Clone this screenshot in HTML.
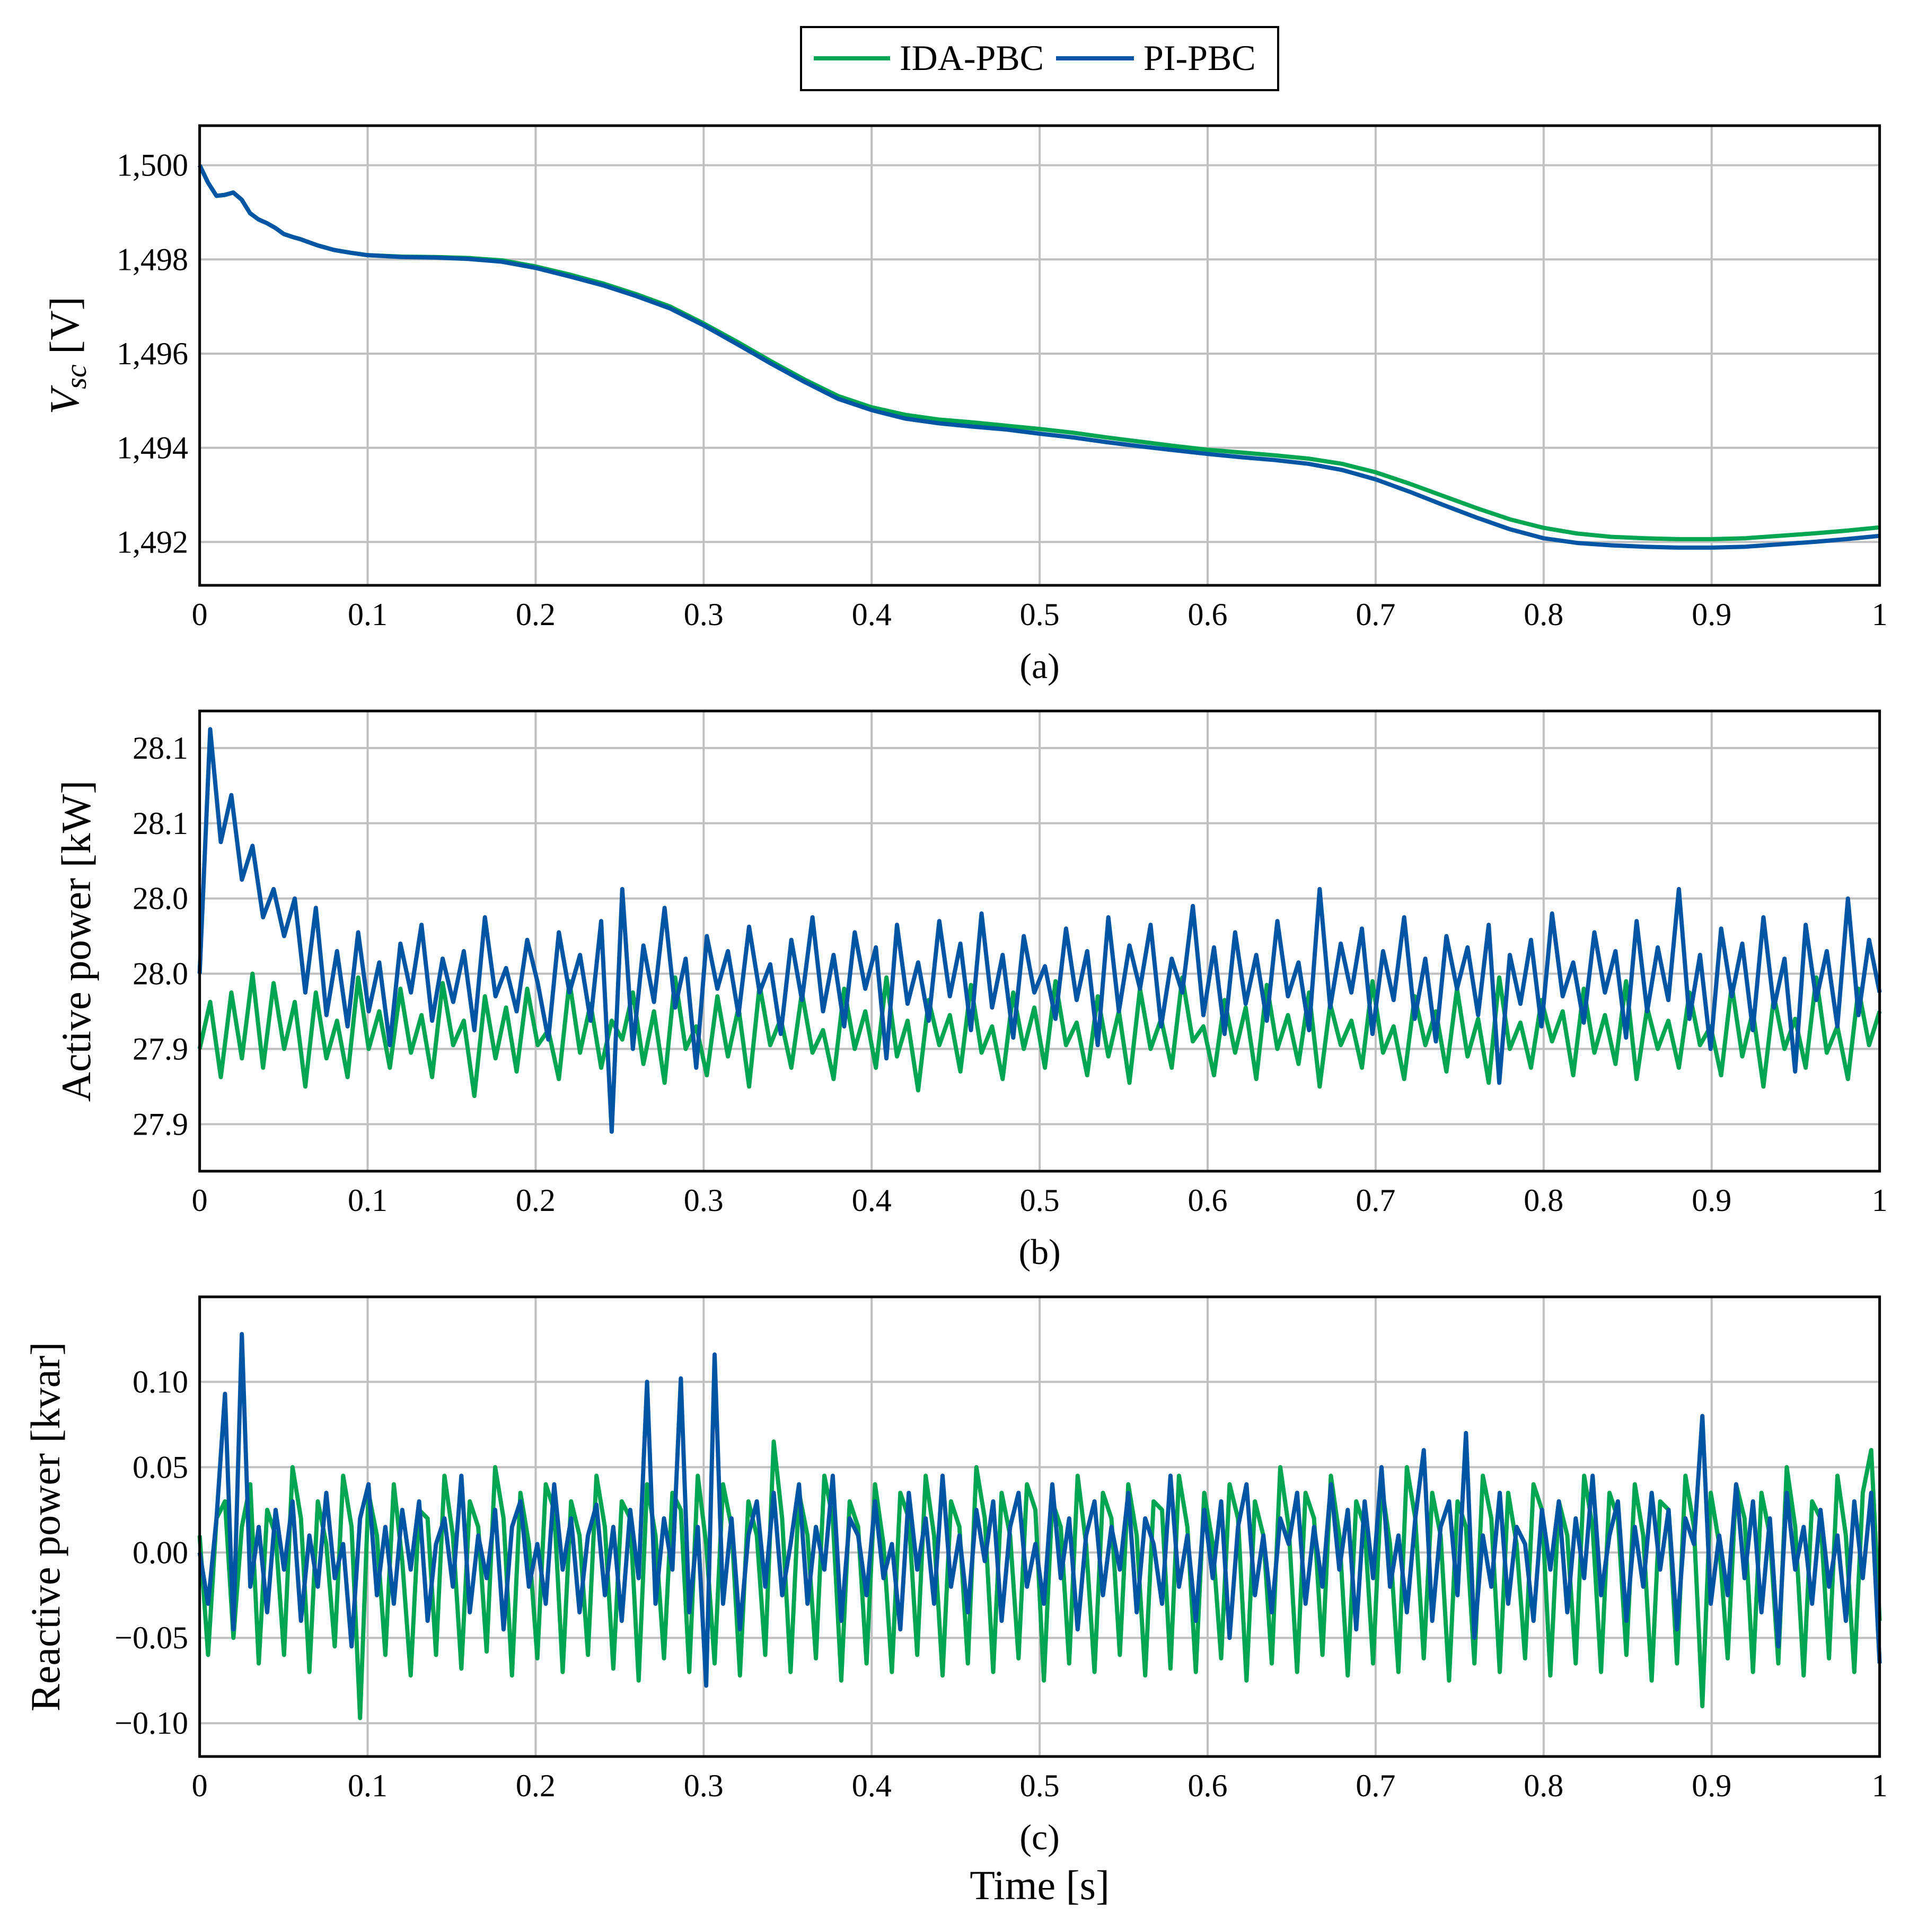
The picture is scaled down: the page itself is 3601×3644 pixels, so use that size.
<!DOCTYPE html>
<html><head><meta charset="utf-8"><style>
html,body{margin:0;padding:0;background:#fff;}
svg{display:block;font-family:"Liberation Serif",serif;}
</style></head><body>
<svg id="chart" width="3601" height="3644" viewBox="0 0 3601 3644" xmlns="http://www.w3.org/2000/svg">
<g>
<rect x="1511" y="51" width="900" height="119" fill="#fff" stroke="#000" stroke-width="4"/>
<line x1="1535" y1="110" x2="1679" y2="110" stroke="#00a651" stroke-width="8"/>
<text x="1697" y="132" font-size="68">IDA-PBC</text>
<line x1="1992" y1="110" x2="2139" y2="110" stroke="#0055a4" stroke-width="8"/>
<text x="2157" y="132" font-size="68">PI-PBC</text>
</g>
<g id="panels"></g>
</svg>
<script>
// Panel (a) data
const tA = [0,0.005,0.01,0.015,0.02,0.025,0.03,0.035,0.04,0.045,0.05,0.055,0.06,0.07,0.08,0.09,0.1,0.12,0.14,0.16,0.18,0.2,0.22,0.24,0.26,0.28,0.3,0.32,0.34,0.36,0.38,0.4,0.42,0.44,0.46,0.48,0.5,0.52,0.54,0.56,0.58,0.6,0.62,0.64,0.66,0.68,0.7,0.72,0.74,0.76,0.78,0.8,0.82,0.84,0.86,0.88,0.9,0.92,0.94,0.96,0.98,1.0];
const vscPI = [1500,1499.63,1499.35,1499.37,1499.42,1499.27,1498.98,1498.85,1498.77,1498.67,1498.54,1498.48,1498.43,1498.3,1498.2,1498.14,1498.09,1498.05,1498.04,1498.01,1497.95,1497.82,1497.64,1497.45,1497.22,1496.96,1496.6,1496.2,1495.79,1495.4,1495.04,1494.8,1494.62,1494.52,1494.45,1494.39,1494.3,1494.22,1494.12,1494.03,1493.95,1493.87,1493.8,1493.74,1493.66,1493.53,1493.33,1493.07,1492.79,1492.52,1492.27,1492.08,1491.98,1491.93,1491.9,1491.88,1491.88,1491.9,1491.95,1492.0,1492.06,1492.13];
const vscIDA = [1500,1499.63,1499.35,1499.37,1499.42,1499.27,1498.98,1498.85,1498.77,1498.67,1498.54,1498.48,1498.43,1498.3,1498.2,1498.14,1498.09,1498.06,1498.05,1498.03,1497.98,1497.85,1497.68,1497.49,1497.26,1497.0,1496.64,1496.25,1495.84,1495.45,1495.1,1494.86,1494.7,1494.6,1494.54,1494.47,1494.4,1494.32,1494.22,1494.13,1494.04,1493.96,1493.9,1493.84,1493.77,1493.66,1493.48,1493.24,1492.98,1492.72,1492.48,1492.3,1492.18,1492.11,1492.08,1492.06,1492.06,1492.08,1492.13,1492.18,1492.24,1492.31];
const ticksA = [1492,1494,1496,1498,1500];
const tickLabelsA = ["1,492","1,494","1,496","1,498","1,500"];
// Panel (b) data (kW), uniformly sampled over 0..1 s
const pPI = [28.000,28.130,28.070,28.095,28.050,28.068,28.030,28.045,28.020,28.040,
27.990,28.035,27.978,28.012,27.972,28.022,27.980,28.006,27.962,28.016,
27.990,28.026,27.975,28.008,27.985,28.012,27.970,28.030,27.988,28.003,
27.980,28.018,27.995,27.965,28.022,27.990,28.010,27.975,28.028,27.916,
28.045,27.960,28.015,27.985,28.035,27.982,28.008,27.950,28.020,27.992,
28.012,27.978,28.025,27.990,28.005,27.968,28.018,27.986,28.030,27.980,
28.010,27.972,28.022,27.992,28.014,27.955,28.026,27.984,28.006,27.975,
28.028,27.988,28.016,27.970,28.032,27.982,28.010,27.966,28.020,27.990,
28.004,27.976,28.024,27.986,28.012,27.962,28.030,27.980,28.015,27.992,
28.026,27.972,28.008,27.990,28.036,27.978,28.014,27.968,28.022,27.984,
28.010,27.975,28.028,27.988,28.006,27.970,28.045,27.982,28.016,27.990,
28.024,27.968,28.012,27.986,28.030,27.976,28.008,27.964,28.020,27.992,
28.014,27.978,28.026,27.942,28.010,27.984,28.018,27.972,28.032,27.988,
28.006,27.974,28.022,27.990,28.012,27.966,28.028,27.980,28.014,27.986,
28.045,27.976,28.010,27.960,28.024,27.988,28.016,27.970,28.030,27.982,
28.008,27.948,28.026,27.986,28.012,27.972,28.040,27.978,28.018,27.990];
const pIDA = [27.960,27.985,27.945,27.990,27.955,28.000,27.950,27.995,27.960,27.985,
27.940,27.990,27.955,27.975,27.945,27.998,27.960,27.980,27.950,27.992,
27.958,27.978,27.945,27.995,27.962,27.975,27.935,27.988,27.955,27.982,
27.948,27.992,27.962,27.970,27.944,27.996,27.958,27.984,27.950,27.975,
27.965,27.990,27.952,27.980,27.942,27.998,27.960,27.972,27.946,27.988,
27.956,27.982,27.940,27.994,27.962,27.976,27.950,27.990,27.958,27.970,
27.944,27.992,27.960,27.980,27.950,27.998,27.956,27.975,27.938,27.986,
27.962,27.978,27.948,27.994,27.958,27.972,27.944,27.990,27.960,27.982,
27.950,27.996,27.962,27.974,27.946,27.988,27.956,27.980,27.942,27.992,
27.960,27.976,27.950,27.998,27.964,27.972,27.946,27.986,27.958,27.982,
27.944,27.994,27.960,27.978,27.952,27.990,27.940,27.984,27.962,27.975,
27.950,27.996,27.958,27.972,27.944,27.988,27.962,27.980,27.948,27.992,
27.956,27.976,27.942,27.998,27.960,27.974,27.950,27.986,27.964,27.980,
27.946,27.992,27.958,27.978,27.952,27.996,27.944,27.982,27.960,27.975,
27.950,27.990,27.962,27.972,27.946,27.994,27.956,27.980,27.940,27.988,
27.960,27.976,27.950,27.998,27.958,27.972,27.944,27.992,27.962,27.980];
const ticksB = [27.92,27.96,28.00,28.04,28.08,28.12];
const tickLabelsB = ["27.9","27.9","28.0","28.0","28.1","28.1"];
// Panel (c) data (kvar)
const qPI = [0.000,-0.030,0.020,0.093,-0.045,0.128,-0.020,0.015,-0.035,0.025,
-0.010,0.030,-0.040,0.010,-0.020,0.035,-0.015,0.005,-0.055,0.020,
0.040,-0.025,0.015,-0.030,0.025,-0.010,0.030,-0.040,0.005,0.020,
-0.020,0.045,-0.035,0.010,-0.015,0.025,-0.045,0.015,0.030,-0.020,
0.005,-0.030,0.040,-0.010,0.020,-0.035,0.010,0.028,-0.025,0.015,
-0.040,0.025,-0.015,0.100,-0.030,0.020,-0.010,0.102,-0.035,0.015,
-0.078,0.116,-0.030,0.020,-0.045,0.010,0.030,-0.020,0.035,-0.025,
0.005,0.040,-0.030,0.015,-0.010,0.045,-0.040,0.020,0.010,-0.025,
0.030,-0.015,0.005,-0.045,0.035,-0.010,0.020,-0.030,0.045,-0.020,
0.010,-0.035,0.025,-0.005,0.030,-0.040,0.015,0.035,-0.020,0.005,
-0.030,0.040,-0.015,0.020,-0.045,0.010,0.030,-0.025,0.015,-0.010,
0.035,-0.035,0.020,0.005,-0.030,0.045,-0.020,0.010,-0.040,0.025,
-0.015,0.030,-0.050,0.015,0.040,-0.025,0.010,-0.035,0.020,0.005,
0.035,-0.030,0.015,-0.020,0.040,-0.010,0.025,-0.045,0.030,-0.015,
0.050,-0.020,0.010,-0.035,0.020,0.060,-0.040,0.015,0.030,-0.025,
0.070,-0.050,0.010,-0.020,0.035,-0.030,0.015,0.005,-0.040,0.025,
-0.010,0.030,-0.035,0.020,-0.015,0.045,-0.025,0.010,0.030,-0.040,
0.015,-0.020,0.035,-0.010,0.025,-0.045,0.020,0.005,0.080,-0.030,
0.010,-0.025,0.040,-0.015,0.030,-0.035,0.020,-0.055,0.035,-0.010,
0.015,-0.030,0.025,-0.020,0.010,-0.040,0.030,-0.015,0.035,-0.065];
const qIDA = [0.010,-0.060,0.020,0.030,-0.050,0.015,0.040,-0.065,0.025,0.010,
-0.060,0.050,0.020,-0.070,0.030,0.005,-0.055,0.045,0.015,-0.097,
0.035,0.010,-0.060,0.040,-0.005,-0.072,0.025,0.020,-0.060,0.045,
0.010,-0.068,0.030,0.015,-0.058,0.050,0.020,-0.072,0.035,0.005,
-0.062,0.040,0.025,-0.070,0.030,0.010,-0.060,0.045,0.015,-0.068,
0.030,0.020,-0.075,0.040,0.010,-0.062,0.035,0.025,-0.070,0.045,
0.005,-0.065,0.040,0.015,-0.072,0.030,0.010,-0.060,0.065,0.020,
-0.070,0.035,0.010,-0.062,0.045,0.020,-0.075,0.030,0.015,-0.065,
0.040,0.005,-0.070,0.035,0.020,-0.060,0.045,0.010,-0.072,0.030,
0.015,-0.065,0.050,0.020,-0.070,0.035,0.010,-0.062,0.040,0.025,
-0.075,0.030,0.015,-0.065,0.045,0.005,-0.070,0.035,0.020,-0.060,
0.040,0.010,-0.072,0.030,0.025,-0.068,0.045,0.015,-0.070,0.035,
0.005,-0.062,0.040,0.020,-0.075,0.030,0.010,-0.065,0.050,0.015,
-0.070,0.035,0.020,-0.060,0.045,0.010,-0.072,0.030,0.015,-0.065,
0.040,0.005,-0.070,0.050,0.020,-0.062,0.035,0.010,-0.075,0.030,
0.015,-0.065,0.045,0.020,-0.070,0.035,0.005,-0.062,0.040,0.025,
-0.072,0.030,0.010,-0.065,0.045,0.015,-0.070,0.035,0.020,-0.060,
0.040,0.010,-0.075,0.030,0.025,-0.065,0.045,0.015,-0.090,0.035,
0.005,-0.062,0.040,0.020,-0.070,0.035,0.010,-0.065,0.050,0.015,
-0.072,0.030,0.020,-0.062,0.045,0.010,-0.070,0.035,0.060,-0.040];
const ticksC = [-0.10,-0.05,0.00,0.05,0.10];
const tickLabelsC = ["\u22120.10","\u22120.05","0.00","0.05","0.10"];
const xTicks = [0,0.1,0.2,0.3,0.4,0.5,0.6,0.7,0.8,0.9,1];
const xTickLabels = ["0","0.1","0.2","0.3","0.4","0.5","0.6","0.7","0.8","0.9","1"];

const NS = "http://www.w3.org/2000/svg";
const root = document.getElementById('panels');
const X0 = 376.6, X1 = 3545.6;
function mk(tag, attrs, parent){ const e=document.createElementNS(NS,tag); for(const k in attrs) e.setAttribute(k,attrs[k]); parent.appendChild(e); return e; }
function uni(n){ const a=[]; for(let i=0;i<n;i++) a.push(i/(n-1)); return a; }

function panel(cfg){
  const g = mk('g',{},root);
  
  
  const xs = t => X0 + (t-0)/(1-0)*(X1-X0);
  const ys = v => cfg.y1 - (v-cfg.vmin)/(cfg.vmax-cfg.vmin)*(cfg.y1-cfg.y0);
  xTicks.forEach((t,i)=>{
    const l = mk('line',{x1:xs(t),x2:xs(t),y1:cfg.y0,y2:cfg.y1,stroke:'#c0c0c0','stroke-width':4},g);
    
    
    const tx = mk('text',{x:xs(t),y:cfg.y1+75,'font-size':60,'text-anchor':'middle'},g);
    
    
    tx.textContent = xTickLabels[i];
  });
  cfg.ticks.forEach((v,i)=>{
    const l = mk('line',{x1:X0,x2:X1,y1:ys(v),y2:ys(v),stroke:'#c0c0c0','stroke-width':4},g);
    
    
    const tx = mk('text',{x:355,y:ys(v)+20,'font-size':60,'text-anchor':'end'},g);
    
    
    tx.textContent = cfg.labels[i];
  });
  cfg.series.forEach(s=>{
    const pts = s.y.map((v,i)=>xs(s.t[i]).toFixed(1)+','+ys(v).toFixed(1)).join(' ');
    const p = mk('polyline',{points:pts,fill:'none',stroke:s.color,'stroke-width':8,'stroke-linejoin':'round'},g);
    
    
  });
  const fr = mk('rect',{x:X0,y:cfg.y0,width:X1-X0,height:cfg.y1-cfg.y0,fill:'none',stroke:'#000','stroke-width':5},g);
  
  
  const cap = mk('text',{x:(X0+X1)/2,y:cfg.y1+175,'font-size':68,'text-anchor':'middle'},g);
  
  
  cap.textContent = cfg.caption;
  const yl = mk('text',{x:0,y:0,'font-size':78,'text-anchor':'middle',transform:'translate('+cfg.ylx+','+((cfg.y0+cfg.y1)/2)+') rotate(-90)'},g);
  
  
  if(cfg.vsc){ yl.innerHTML = '<tspan font-style="italic">V</tspan><tspan font-style="italic" font-size="56" dy="14">sc</tspan><tspan dy="-14"> [V]</tspan>'; }
  else yl.textContent = cfg.ylabel;
}

panel({name:'panel-a-vsc',y0:237,y1:1104,vmin:1491.08,vmax:1500.84,ticks:ticksA,labels:tickLabelsA,caption:'(a)',ylx:148,vsc:true,
  series:[{t:tA,y:vscIDA,color:'#00a651',name:'vsc-ida-pbc-line'},{t:tA,y:vscPI,color:'#0055a4',name:'vsc-pi-pbc-line'}]});
panel({name:'panel-b-active-power',y0:1341,y1:2209,vmin:27.895,vmax:28.1397,ticks:ticksB,labels:tickLabelsB,caption:'(b)',ylx:170,ylabel:'Active power [kW]',
  series:[{t:uni(pIDA.length),y:pIDA,color:'#00a651',name:'active-ida-pbc-line'},{t:uni(pPI.length),y:pPI,color:'#0055a4',name:'active-pi-pbc-line'}]});
panel({name:'panel-c-reactive-power',y0:2446,y1:3313,vmin:-0.1195,vmax:0.1498,ticks:ticksC,labels:tickLabelsC,caption:'(c)',ylx:112,ylabel:'Reactive power [kvar]',
  series:[{t:uni(qIDA.length),y:qIDA,color:'#00a651',name:'reactive-ida-pbc-line'},{t:uni(qPI.length),y:qPI,color:'#0055a4',name:'reactive-pi-pbc-line'}]});

const xt = document.createElementNS(NS,'text');
xt.setAttribute('x',(X0+X1)/2); xt.setAttribute('y',3582); xt.setAttribute('font-size',78); xt.setAttribute('text-anchor','middle');


xt.textContent = 'Time [s]';
document.getElementById('chart').appendChild(xt);
</script>
</body></html>
